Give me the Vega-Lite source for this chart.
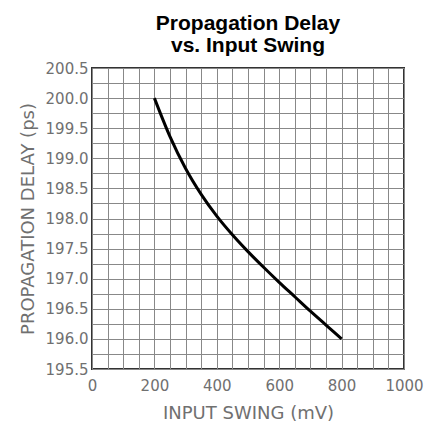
{
  "$schema": "https://vega.github.io/schema/vega-lite/v6.json",
  "autosize": "none",
  "width": 312,
  "height": 301,
  "padding": {"left": 92, "top": 68, "right": 24, "bottom": 55},
  "background": "white",
  "title": {
    "text": ["Propagation Delay", "vs. Input Swing"],
    "font": "Liberation Sans",
    "fontSize": 21,
    "fontWeight": "bold",
    "color": "#000000",
    "anchor": "middle",
    "lineHeight": 22,
    "offset": 5
  },
  "config": {
    "view": {"stroke": "#333333", "strokeWidth": 2},
    "axis": {
      "labelFont": "DejaVu Sans",
      "labelFontSize": 15,
      "labelColor": "#707070",
      "titleFont": "DejaVu Sans",
      "titleFontSize": 18,
      "titleFontWeight": "normal",
      "titleColor": "#707070",
      "gridColor": "#888888",
      "gridWidth": 1,
      "gridOpacity": 1,
      "ticks": false,
      "domain": false
    }
  },
  "data": {
    "values": [
      {"swing": 200, "delay": 200.0},
      {"swing": 250, "delay": 199.36},
      {"swing": 300, "delay": 198.83},
      {"swing": 350, "delay": 198.4},
      {"swing": 400, "delay": 198.04},
      {"swing": 450, "delay": 197.73},
      {"swing": 500, "delay": 197.45},
      {"swing": 550, "delay": 197.19},
      {"swing": 600, "delay": 196.94},
      {"swing": 650, "delay": 196.7},
      {"swing": 700, "delay": 196.46},
      {"swing": 750, "delay": 196.23},
      {"swing": 800, "delay": 196.0}
    ]
  },
  "mark": {"type": "line", "color": "#000000", "strokeWidth": 3, "interpolate": "monotone"},
  "encoding": {
    "x": {
      "field": "swing",
      "type": "quantitative",
      "scale": {"domain": [0, 1000], "nice": false},
      "axis": {
        "title": "INPUT SWING (mV)",
        "values": [0,50,100,150,200,250,300,350,400,450,500,550,600,650,700,750,800,850,900,950,1000],
        "labelExpr": "datum.value % 200 === 0 ? datum.label : ''",
        "format": "d",
        "labelPadding": 9,
        "titlePadding": 11,
        "labelFlush": false,
        "labelOverlap": false
      }
    },
    "y": {
      "field": "delay",
      "type": "quantitative",
      "scale": {"domain": [195.5, 200.5], "nice": false, "zero": false},
      "axis": {
        "title": "PROPAGATION DELAY (ps)",
        "values": [195.5,195.75,196,196.25,196.5,196.75,197,197.25,197.5,197.75,198,198.25,198.5,198.75,199,199.25,199.5,199.75,200,200.25,200.5],
        "format": ".1f",
        "labelExpr": "(datum.value * 2) % 1 === 0 ? datum.label : ''",
        "labelPadding": 4,
        "titlePadding": 8,
        "labelFlush": false,
        "labelOverlap": false
      }
    }
  }
}
